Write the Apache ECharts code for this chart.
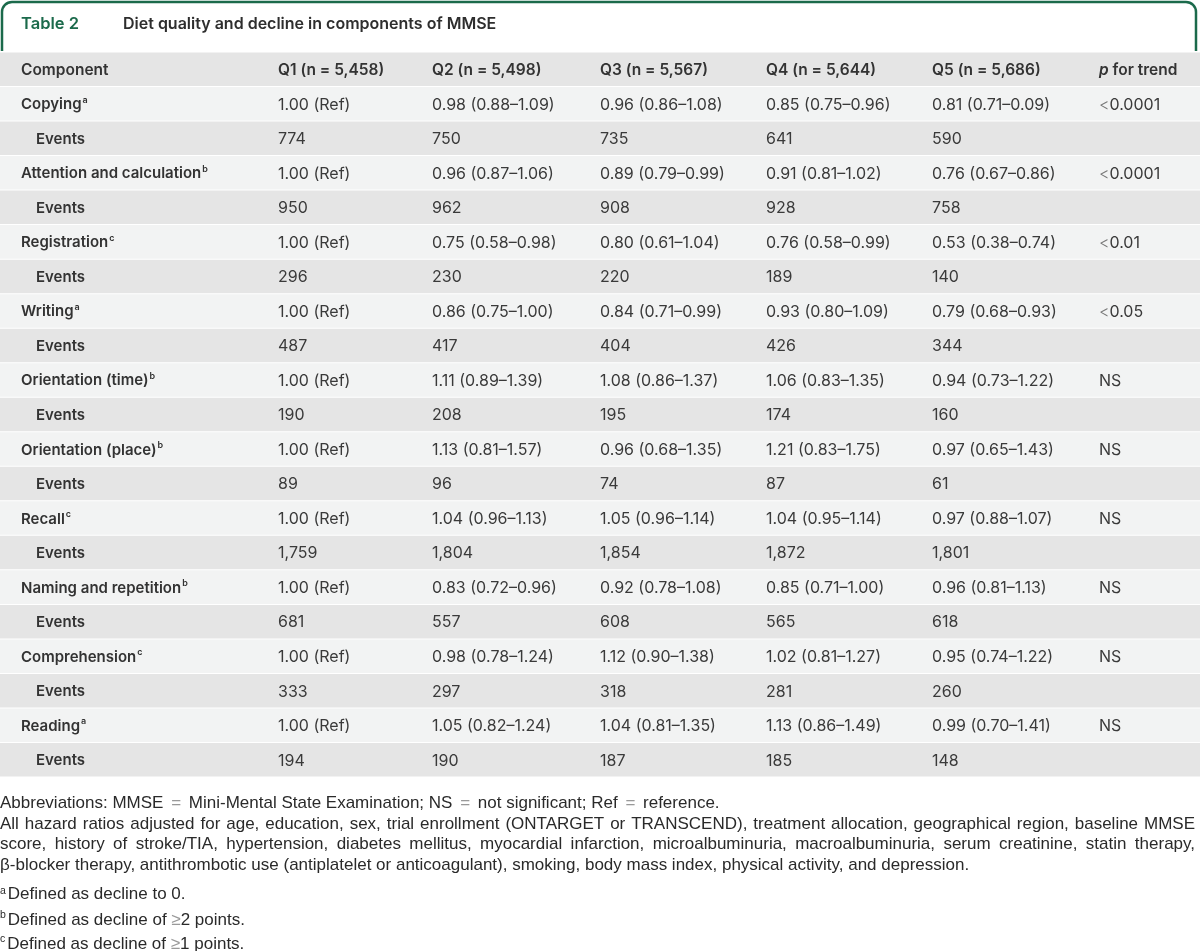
<!DOCTYPE html>
<html>
<head>
<meta charset="utf-8">
<title>Table 2</title>
<script src="https://cdn.jsdelivr.net/npm/echarts@6/dist/echarts.min.js"></script>
<style>
  html, body { margin: 0; padding: 0; background: #fff; }
  #main { width: 1200px; height: 951px; }
</style>
</head>
<body>
<div id="main"></div>
<script>
var headers = ['Component', 'Q1 (n = 5,458)', 'Q2 (n = 5,498)', 'Q3 (n = 5,567)', 'Q4 (n = 5,644)', 'Q5 (n = 5,686)', 'p for trend'];
var components = ['Copying', 'Attention and calculation', 'Registration', 'Writing', 'Orientation (time)',
  'Orientation (place)', 'Recall', 'Naming and repetition', 'Comprehension', 'Reading'];
var notes = ['a', 'b', 'c', 'a', 'b', 'b', 'c', 'b', 'c', 'a'];

var hrQ1 = ['1.00 (Ref)', '1.00 (Ref)', '1.00 (Ref)', '1.00 (Ref)', '1.00 (Ref)', '1.00 (Ref)', '1.00 (Ref)', '1.00 (Ref)', '1.00 (Ref)', '1.00 (Ref)'];
var hrQ2 = ['0.98 (0.88–1.09)', '0.96 (0.87–1.06)', '0.75 (0.58–0.98)', '0.86 (0.75–1.00)', '1.11 (0.89–1.39)',
  '1.13 (0.81–1.57)', '1.04 (0.96–1.13)', '0.83 (0.72–0.96)', '0.98 (0.78–1.24)', '1.05 (0.82–1.24)'];
var hrQ3 = ['0.96 (0.86–1.08)', '0.89 (0.79–0.99)', '0.80 (0.61–1.04)', '0.84 (0.71–0.99)', '1.08 (0.86–1.37)',
  '0.96 (0.68–1.35)', '1.05 (0.96–1.14)', '0.92 (0.78–1.08)', '1.12 (0.90–1.38)', '1.04 (0.81–1.35)'];
var hrQ4 = ['0.85 (0.75–0.96)', '0.91 (0.81–1.02)', '0.76 (0.58–0.99)', '0.93 (0.80–1.09)', '1.06 (0.83–1.35)',
  '1.21 (0.83–1.75)', '1.04 (0.95–1.14)', '0.85 (0.71–1.00)', '1.02 (0.81–1.27)', '1.13 (0.86–1.49)'];
var hrQ5 = ['0.81 (0.71–0.09)', '0.76 (0.67–0.86)', '0.53 (0.38–0.74)', '0.79 (0.68–0.93)', '0.94 (0.73–1.22)',
  '0.97 (0.65–1.43)', '0.97 (0.88–1.07)', '0.96 (0.81–1.13)', '0.95 (0.74–1.22)', '0.99 (0.70–1.41)'];
var pTrend = ['<0.0001', '<0.0001', '<0.01', '<0.05', 'NS', 'NS', 'NS', 'NS', 'NS', 'NS'];

var eventsQ1 = ['774', '950', '296', '487', '190', '89', '1,759', '681', '333', '194'];
var eventsQ2 = ['750', '962', '230', '417', '208', '96', '1,804', '557', '297', '190'];
var eventsQ3 = ['735', '908', '220', '404', '195', '74', '1,854', '608', '318', '187'];
var eventsQ4 = ['641', '928', '189', '426', '174', '87', '1,872', '565', '281', '185'];
var eventsQ5 = ['590', '758', '140', '344', '160', '61', '1,801', '618', '260', '148'];

var abbrevLine = 'Abbreviations: MMSE {s|=} Mini-Mental State Examination; NS {s|=} not significant; Ref {s|=} reference.';
var adjustLines = [
  'All hazard ratios adjusted for age, education, sex, trial enrollment (ONTARGET or TRANSCEND), treatment allocation, geographical region, baseline MMSE',
  'score, history of stroke/TIA, hypertension, diabetes mellitus, myocardial infarction, microalbuminuria, macroalbuminuria, serum creatinine, statin therapy,',
  'β-blocker therapy, antithrombotic use (antiplatelet or anticoagulant), smoking, body mass index, physical activity, and depression.'
];
var footNotes = [
  '{sup|a}Defined as decline to 0.',
  '{sup|b}Defined as decline of {s|≥}2 points.',
  '{sup|c}Defined as decline of {s|≥}1 points.'
];

// ---- layout ----
var colX = [21, 278, 432, 600, 766, 932, 1099];
var eventsIndent = 36;
var TFONT = 'Inter, "Noto Sans", sans-serif';
var FFONT = '"Liberation Sans", Arial, sans-serif';
var FSIZE = 17;
var FOOT_TOP = 795;
var FOOT_STEP = 20.5;
var JUSTIFY_W = 1195;
var INK = '#333333';
var GREEN = '#1b6a4b';
var FOOT_INK = '#2a2a2a';

var hrCols = [hrQ1, hrQ2, hrQ3, hrQ4, hrQ5];
var evCols = [eventsQ1, eventsQ2, eventsQ3, eventsQ4, eventsQ5];

// build rows + cells for the custom series
var rowKeys = ['header'];
var rowType = [0];
var cells = [];
headers.forEach(function (h, c) {
  var txt = c === 6 ? '{i|p}{h| for trend}' : '{h|' + h + '}';
  cells.push({ x: colX[c], row: 0, text: txt });
});
components.forEach(function (name, k) {
  var r = rowKeys.length;
  rowKeys.push(name); rowType.push(1);
  cells.push({ x: colX[0], row: r, text: '{b|' + name + '}{sup|' + notes[k] + '}' });
  hrCols.forEach(function (col, q) {
    cells.push({ x: colX[q + 1], row: r, text: '{v|' + col[k] + '}' });
  });
  var p = pTrend[k];
  cells.push({ x: colX[6], row: r, text: p.charAt(0) === '<' ? '{lt|<}{v|' + p.slice(1) + '}' : '{v|' + p + '}' });

  r = rowKeys.length;
  rowKeys.push(name + ' events'); rowType.push(2);
  cells.push({ x: eventsIndent, row: r, text: '{b|Events}' });
  evCols.forEach(function (col, q) {
    cells.push({ x: colX[q + 1], row: r, text: '{v|' + col[k] + '}' });
  });
});

var rich = {
  h: { fontFamily: TFONT, fontSize: 15.5, fontWeight: 600, fill: INK, color: INK, lineHeight: 18 },
  i: { fontFamily: TFONT, fontSize: 15.5, fontWeight: 600, fontStyle: 'italic', fill: INK, color: INK, lineHeight: 18 },
  b: { fontFamily: TFONT, fontSize: 15, fontWeight: 600, fill: INK, color: INK, lineHeight: 18 },
  v: { fontFamily: TFONT, fontSize: 16, fontWeight: 400, fill: '#3a3a3a', color: '#3a3a3a', lineHeight: 18 },
  lt: { fontFamily: TFONT, fontSize: 16, fontWeight: 300, fill: '#777', color: '#777', lineHeight: 18 },
  sup: { fontFamily: TFONT, fontSize: 9, fontWeight: 600, fill: INK, color: INK, lineHeight: 9, verticalAlign: 'top', padding: [0, 0, 0, 1] }
};

// justified footnote lines: one text element per word
var measureCtx = document.createElement('canvas').getContext('2d');
measureCtx.font = FSIZE + 'px ' + FFONT;
function justifiedWords(line, y, justify) {
  var words = line.split(' ');
  var widths = words.map(function (w) { return measureCtx.measureText(w).width; });
  var total = widths.reduce(function (a, b) { return a + b; }, 0);
  var gap = justify ? (JUSTIFY_W - total) / (words.length - 1) : measureCtx.measureText(' ').width;
  var x = 0;
  return words.map(function (w, i) {
    var el = { type: 'text', x: x, y: y, style: { text: w, font: FSIZE + 'px ' + FFONT, fill: FOOT_INK } };
    x += widths[i] + gap;
    return el;
  });
}

var footEls = [{
  type: 'text', x: 0, y: 0,
  style: {
    text: abbrevLine, font: FSIZE + 'px ' + FFONT, fill: FOOT_INK,
    rich: { s: { fontFamily: FFONT, fontSize: FSIZE, fill: '#999', padding: [0, 3, 0, 3] } }
  }
}];
adjustLines.forEach(function (t, i) {
  footEls = footEls.concat(justifiedWords(t, (i + 1) * FOOT_STEP, i < adjustLines.length - 1));
});
footNotes.forEach(function (t, i) {
  footEls.push({
    type: 'text', x: 0, y: 91 + i * 24,
    style: {
      text: t, font: FSIZE + 'px ' + FFONT, fill: FOOT_INK,
      rich: {
        s: { fontFamily: FFONT, fontSize: FSIZE, fill: '#999', lineHeight: 20 },
        sup: { fontFamily: FFONT, fontSize: 10.5, fill: FOOT_INK, lineHeight: 10, verticalAlign: 'top', padding: [0, 2, 0, 0] }
      }
    }
  });
});

var chart = echarts.init(document.getElementById('main'));

chart.setOption({
  animation: false,
  backgroundColor: '#ffffff',
  grid: { left: 0, right: 0, top: 52, height: 725 },
  xAxis: { type: 'value', min: 0, max: 1200, show: false },
  yAxis: { type: 'category', data: rowKeys, inverse: true, show: false },
  graphic: [
    // green title frame
    { type: 'line', shape: { x1: 2, y1: 12, x2: 2, y2: 51 }, style: { stroke: GREEN, lineWidth: 2.5 } },
    { type: 'line', shape: { x1: 12, y1: 2, x2: 1186, y2: 2 }, style: { stroke: GREEN, lineWidth: 2.5 } },
    { type: 'line', shape: { x1: 1196, y1: 12, x2: 1196, y2: 51 }, style: { stroke: GREEN, lineWidth: 2.5 } },
    { type: 'arc', shape: { cx: 12, cy: 12, r: 10, startAngle: Math.PI, endAngle: Math.PI * 1.5 }, style: { stroke: GREEN, lineWidth: 2.5, fill: 'none' } },
    { type: 'arc', shape: { cx: 1186, cy: 12, r: 10, startAngle: Math.PI * 1.5, endAngle: Math.PI * 2 }, style: { stroke: GREEN, lineWidth: 2.5, fill: 'none' } },
    {
      type: 'text', x: 21, y: 16,
      style: { text: 'Table 2', font: '600 16.5px ' + TFONT, fill: GREEN }
    },
    {
      type: 'text', x: 123, y: 16,
      style: { text: 'Diet quality and decline in components of MMSE', font: '600 16px ' + TFONT, fill: '#2e2e2e' }
    },
    { type: 'group', x: 0, y: FOOT_TOP, children: footEls }
  ],
  series: [
    {
      // row bands
      type: 'custom',
      silent: true,
      data: rowType.map(function (t, i) { return [0, i, t]; }),
      renderItem: function (params, api) {
        var i = api.value(1);
        var t = api.value(2);
        var c = api.coord([0, i]);
        var h = api.size([0, 1])[1];
        return {
          type: 'rect',
          shape: { x: params.coordSys.x, y: c[1] - h / 2 + 0.5, width: params.coordSys.width, height: h - 1 },
          style: { fill: t === 1 ? '#f2f3f3' : '#e5e5e5' }
        };
      }
    },
    {
      // cell texts
      type: 'custom',
      silent: true,
      data: cells.map(function (c) { return [c.x, c.row]; }),
      renderItem: function (params, api) {
        var p = api.coord([api.value(0), api.value(1)]);
        return {
          type: 'text',
          x: p[0], y: p[1] + 1,
          style: {
            text: cells[params.dataIndex].text,
            rich: rich,
            align: 'left',
            verticalAlign: 'middle'
          }
        };
      }
    }
  ]
});
</script>
</body>
</html>
